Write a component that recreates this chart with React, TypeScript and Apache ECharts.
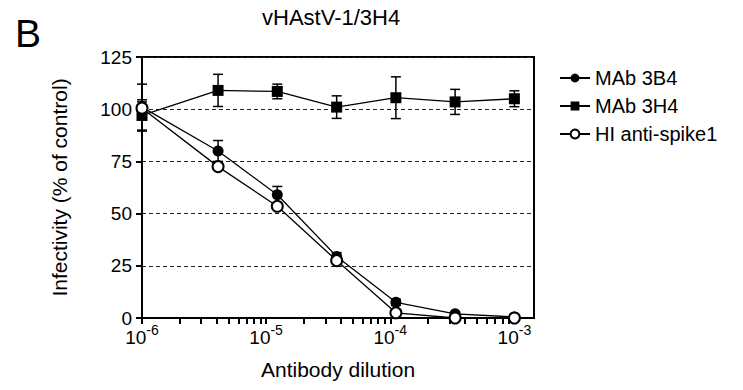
import React, { useEffect, useRef } from "react";
import * as echarts from "echarts";

// Antibody dilutions (x values)
const dilutions = [1e-6, 4.1e-6, 1.23e-5, 3.7e-5, 1.11e-4, 3.33e-4, 1e-3];
// Series values (% of control)
const mab3B4 = [101, 80, 59, 29.5, 7.5, 2, 0.5];
const mab3B4Err = [11, 5, 4, 1.8, 1.5, 1, 1];
const mab3H4 = [97, 109, 108.5, 101, 105.5, 103.5, 105];
const mab3H4Err = [7.5, 7.7, 3.5, 5.4, 10, 6, 3.8];
const hiSpike = [100.5, 72.5, 53.5, 27.5, 2.5, 0, 0];
const hiSpikeErr = [3, 0, 0, 0, 0, 0, 0];
// Axis tick values
const yTicks = [0, 25, 50, 75, 100, 125];
const xDecades = [-6, -5, -4, -3];
const xMaxExp = -2.842;

const FONT = "Liberation Sans, Arial, Helvetica, sans-serif";

export default function App() {
  const ref = useRef<HTMLDivElement>(null);
  useEffect(() => {
    document.body.style.margin = "0";
    const chart = echarts.init(ref.current!, null, { renderer: "svg" });
    const lx = dilutions.map((d) => Math.log10(d));
    const minorTicks: number[] = [];
    xDecades.forEach((d) => {
      for (let k = 1; k <= 9; k++) {
        const v = d + Math.log10(k);
        if (v <= xMaxExp + 1e-9) minorTicks.push(v);
      }
    });
    const errSeries = (name: string, vals: number[], errs: number[]) => ({
      name,
      type: "custom",
      z: 1,
      silent: true,
      data: vals.map((v, i) => [lx[i], v - errs[i], v + errs[i]]),
      encode: { x: 0, y: [1, 2] },
      renderItem: (params: any, api: any) => {
        const x = api.value(0);
        const lo = api.value(1);
        const hi = api.value(2);
        if (hi - lo <= 0) return null;
        const p1 = api.coord([x, lo]);
        const p2 = api.coord([x, hi]);
        const w = 5;
        const style = { stroke: "#000", lineWidth: 1.5 };
        return {
          type: "group",
          children: [
            { type: "line", shape: { x1: p1[0], y1: p1[1], x2: p2[0], y2: p2[1] }, style },
            { type: "line", shape: { x1: p1[0] - w, y1: p1[1], x2: p1[0] + w, y2: p1[1] }, style },
            { type: "line", shape: { x1: p2[0] - w, y1: p2[1], x2: p2[0] + w, y2: p2[1] }, style },
          ],
        };
      },
    });
    const lineSeries = (name: string, vals: number[], symbol: string, size: number) => ({
      name,
      type: "line",
      z: 3,
      data: vals.map((v, i) => [lx[i], v]),
      symbol,
      symbolSize: size,
      showAllSymbol: true,
      lineStyle: { color: "#000", width: 1.3 },
      itemStyle: { color: "#000", borderColor: "#000", borderWidth: symbol === "emptyCircle" ? 1.3 : 0 },
      emphasis: { disabled: true },
    });
    chart.setOption({
      animation: false,
      backgroundColor: "#fff",
      textStyle: { fontFamily: FONT, color: "#000" },
      title: {
        text: "vHAstV-1/3H4",
        left: 257,
        top: 1,
        textStyle: { fontFamily: FONT, fontSize: 22, fontWeight: "normal", color: "#000" },
      },
      graphic: [
        {
          type: "text",
          left: 15,
          top: 14,
          style: { text: "B", fontFamily: FONT, fontSize: 39, fill: "#000" },
        },
      ],
      legend: {
        orient: "vertical",
        left: 554,
        top: 63,
        itemWidth: 30,
        itemHeight: 11,
        itemGap: 8,
        data: ["MAb 3B4", "MAb 3H4", "HI anti-spike1"],
        textStyle: { fontFamily: FONT, fontSize: 20, color: "#000" },
      },
      grid: {
        left: 142,
        right: 209,
        top: 57,
        bottom: 72,
        show: true,
        borderColor: "#000",
        borderWidth: 2,
        containLabel: false,
      },
      xAxis: {
        type: "value",
        min: -6,
        max: xMaxExp,
        interval: 1,
        name: "Antibody dilution",
        nameLocation: "middle",
        nameGap: 41,
        nameTextStyle: { fontFamily: FONT, fontSize: 21, color: "#000" },
        axisLine: { show: true, lineStyle: { color: "#000", width: 2 } },
        axisTick: { show: true, inside: false, length: 6, customValues: minorTicks, lineStyle: { color: "#000", width: 2 } },
        splitLine: { show: false },
        axisLabel: {
          customValues: xDecades,
          margin: 5,
          color: "#000",
          formatter: (v: number) => `{b|10}{s|${Math.round(v)}}`,
          rich: {
            b: { fontFamily: FONT, fontSize: 19, color: "#000", verticalAlign: "bottom" },
            s: { fontFamily: FONT, fontSize: 14, color: "#000", verticalAlign: "bottom", padding: [0, 0, 10, 0] },
          },
        },
      },
      yAxis: {
        type: "value",
        min: 0,
        max: 125,
        interval: 25,
        name: "Infectivity (% of control)",
        nameLocation: "middle",
        nameGap: 72,
        nameTextStyle: { fontFamily: FONT, fontSize: 21, color: "#000" },
        axisLine: { show: true, lineStyle: { color: "#000", width: 2 } },
        axisTick: { show: true, inside: false, length: 6, lineStyle: { color: "#000", width: 2 } },
        axisLabel: {
          customValues: yTicks,
          margin: 10,
          color: "#000",
          fontFamily: FONT,
          fontSize: 19,
        },
        splitLine: { show: true, lineStyle: { color: "#222", width: 1, type: [4, 3] } },
      },
      series: [
        errSeries("err3B4", mab3B4, mab3B4Err),
        errSeries("err3H4", mab3H4, mab3H4Err),
        errSeries("errHI", hiSpike, hiSpikeErr),
        lineSeries("MAb 3B4", mab3B4, "circle", 11),
        lineSeries("MAb 3H4", mab3H4, "rect", 11),
        lineSeries("HI anti-spike1", hiSpike, "emptyCircle", 11),
      ],
    });
    return () => chart.dispose();
  }, []);
  return <div ref={ref} style={{ position: "absolute", left: 0, top: 0, width: 743, height: 390 }} />;
}
